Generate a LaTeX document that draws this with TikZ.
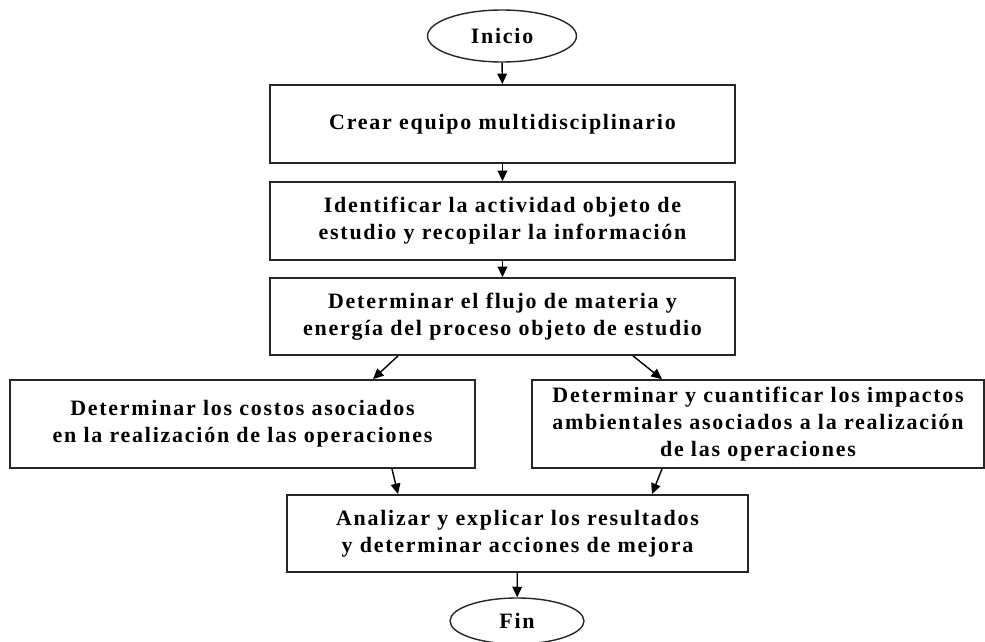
\documentclass[tikz,border=0pt]{standalone}
\usepackage{fontspec}
\setmainfont{Liberation Serif}[LetterSpace=8]
\usetikzlibrary{shapes.geometric, arrows.meta}

\begin{document}
\begin{tikzpicture}[x=0.02cm,y=-0.02cm]
        \tikzset{
            paso/.style={draw=black!85, line width=1pt, rectangle, align=center, inner sep=0pt,
                font=\bfseries\fontsize{12.5}{15.5}\selectfont},
            terminal/.style={draw=black!85, line width=0.8pt, ellipse, inner sep=0pt,
                font=\bfseries\fontsize{12.5}{15.5}\selectfont},
            flecha/.style={draw=black, line width=0.8pt, -{Triangle[length=6pt,width=5.5pt]}}
        }
        \useasboundingbox (0,0) rectangle (985,642);

        % Inicio y pasos centrales
        \node[terminal, minimum width=2.98cm, minimum height=1.04cm] (inicio) at (502,36) {Inicio};
        \node[paso, minimum width=9.3cm, minimum height=1.56cm] (equipo) at (502.5,124) {Crear equipo multidisciplinario};
        \node[paso, minimum width=9.3cm, minimum height=1.56cm] (actividad) at (502.5,221) {Identificar la actividad objeto de\\estudio y recopilar la información};
        \node[paso, minimum width=9.3cm, minimum height=1.54cm] (flujo) at (502.5,316.5) {Determinar el flujo de materia y\\energía del proceso objeto de estudio};

        % Ramas
        \node[paso, minimum width=9.3cm, minimum height=1.76cm] (costos) at (242.5,424) {Determinar los costos asociados\\en la realización de las operaciones};
        \node[paso, minimum width=9.04cm, minimum height=1.76cm] (impactos) at (758,424) {Determinar y cuantificar los impactos\\ambientales asociados a la realización\\de las operaciones};

        % Cierre
        \node[paso, minimum width=9.22cm, minimum height=1.54cm] (analizar) at (517.5,533.5) {Analizar y explicar los resultados\\y determinar acciones de mejora};
        \node[terminal, minimum width=2.68cm, minimum height=0.92cm] (fin) at (517,621) {Fin};

        % Flechas
        \draw[flecha] (inicio) -- (equipo);
        \draw[flecha] (equipo) -- (actividad);
        \draw[flecha] (actividad) -- (flujo);
        \draw[flecha] ([xshift=-2.09cm]flujo.south) -- ([xshift=2.61cm]costos.north);
        \draw[flecha] ([xshift=2.61cm]flujo.south) -- ([xshift=-1.92cm]impactos.north);
        \draw[flecha] ([xshift=2.99cm]costos.south) -- ([xshift=-2.39cm]analizar.north);
        \draw[flecha] ([xshift=-1.92cm]impactos.south) -- ([xshift=2.69cm]analizar.north);
        \draw[flecha] (analizar) -- (fin);
\end{tikzpicture}
\end{document}
